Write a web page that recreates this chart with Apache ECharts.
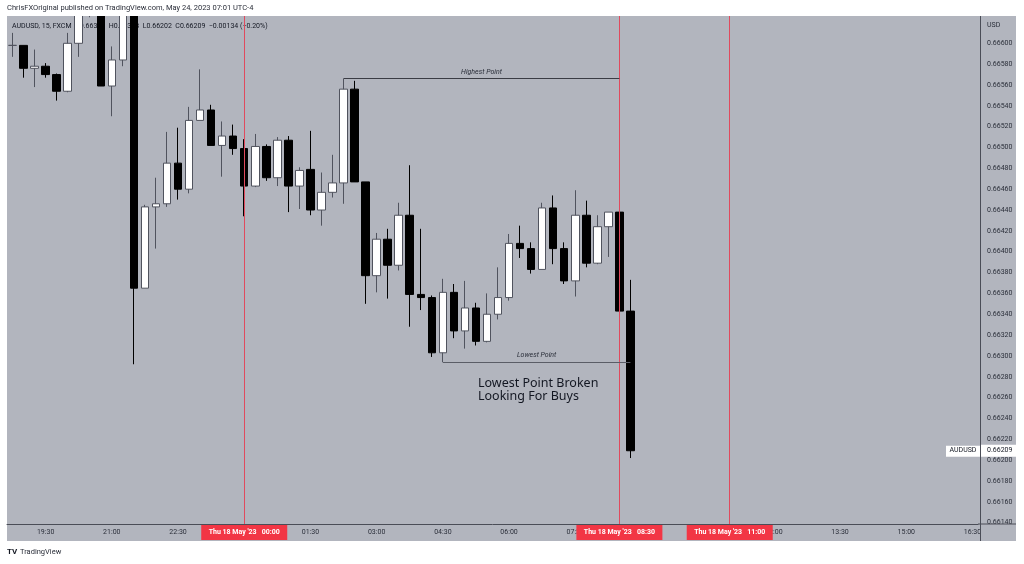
<!DOCTYPE html>
<html><head><meta charset="utf-8">
<script src="https://cdn.jsdelivr.net/npm/echarts@6/dist/echarts.min.js"></script>
<style>html,body{margin:0;padding:0;background:#fff}#c{width:1024px;height:564px}</style>
</head><body><div id="c"></div>
<script>
// 15-minute categories (18:45 on 17 May to 16:30 on 18 May)
const times = ['18:45','19:00','19:15','19:30','19:45','20:00','20:15','20:30','20:45','21:00','21:15','21:30','21:45','22:00','22:15','22:30','22:45','23:00','23:15','23:30','23:45',
'00:00','00:15','00:30','00:45','01:00','01:15','01:30','01:45','02:00','02:15','02:30','02:45','03:00','03:15','03:30','03:45','04:00','04:15','04:30','04:45','05:00','05:15','05:30','05:45','06:00','06:15','06:30','06:45','07:00','07:15','07:30','07:45','08:00','08:15','08:30','08:45',
'09:00','09:15','09:30','09:45','10:00','10:15','10:30','10:45','11:00','11:15','11:30','11:45','12:00','12:15','12:30','12:45','13:00','13:15','13:30','13:45','14:00','14:15','14:30','14:45','15:00','15:15','15:30','15:45','16:00','16:15','16:30'];
const xLabelTimes = ['19:30','21:00','22:30','00:00','01:30','03:00','04:30','06:00','07:30','09:00','10:30','12:00','13:30','15:00','16:30'];

const opens  = [0.66598,0.66598,0.66576,0.66578,0.66570,0.66554,0.66600,0.66640,0.66650,0.66559,0.66584,0.66660,0.66365,0.66443,0.66446,0.66485,0.66460,0.66526,0.66536,0.66502,0.66511,0.66499,0.66463,0.66501,0.66471,0.66507,0.66463,0.66479,0.66440,0.66457,0.66466,0.66556,0.66467,0.66377,0.66412,0.66387,0.66435,0.66359,0.66356,0.66303,0.66361,0.66324,0.66346,0.66314,0.66340,0.66356,0.66408,0.66403,0.66383,0.66442,0.66403,0.66372,0.66435,0.66389,0.66424,0.66438,0.66343];
const closes = [0.66598,0.66576,0.66578,0.66570,0.66554,0.66600,0.66640,0.66660,0.66559,0.66584,0.66650,0.66365,0.66443,0.66446,0.66485,0.66460,0.66526,0.66536,0.66502,0.66511,0.66499,0.66463,0.66501,0.66471,0.66507,0.66463,0.66478,0.66440,0.66457,0.66466,0.66556,0.66467,0.66377,0.66412,0.66387,0.66435,0.66359,0.66356,0.66303,0.66361,0.66324,0.66346,0.66314,0.66340,0.66356,0.66408,0.66403,0.66383,0.66442,0.66403,0.66372,0.66435,0.66389,0.66424,0.66438,0.66343,0.66209];
const lows   = [0.66587,0.66567,0.66558,0.66567,0.66545,0.66553,0.66587,0.66625,0.66559,0.66530,0.66578,0.66292,0.66365,0.66403,0.66443,0.66450,0.66456,0.66526,0.66502,0.66472,0.66493,0.66434,0.66462,0.66468,0.66463,0.66438,0.66441,0.66435,0.66425,0.66452,0.66446,0.66467,0.66350,0.66361,0.66355,0.66382,0.66328,0.66344,0.66299,0.66294,0.66317,0.66307,0.66310,0.66313,0.66335,0.66353,0.66394,0.66379,0.66383,0.66388,0.66369,0.66357,0.66385,0.66388,0.66395,0.66294,0.66202];
const highs  = [0.66610,0.66598,0.66594,0.66581,0.66571,0.66610,0.66650,0.66670,0.66665,0.66597,0.66670,0.66675,0.66445,0.66471,0.66515,0.66519,0.66539,0.66575,0.66541,0.66525,0.66522,0.66508,0.66513,0.66503,0.66510,0.66511,0.66481,0.66516,0.66476,0.66493,0.66566,0.66564,0.66467,0.66418,0.66422,0.66447,0.66483,0.66422,0.66358,0.66374,0.66369,0.66372,0.66351,0.66360,0.66385,0.66417,0.66425,0.66409,0.66447,0.66454,0.66409,0.66459,0.66449,0.66435,0.66438,0.66443,0.66373];

const yTicks = [0.6614,0.6616,0.6618,0.6620,0.6622,0.6624,0.6626,0.6628,0.6630,0.6632,0.6634,0.6636,0.6638,0.6640,0.6642,0.6644,0.6646,0.6648,0.6650,0.6652,0.6654,0.6656,0.6658,0.6660];
const markerTimes = ['00:00','08:30','11:00'];
const markerDate = "Thu 18 May '23";
const lastPrice = 0.66209;
const highIdx = 30, highEnd = 55, lowIdx = 39, lowEnd = 56;

const FONT = 'Roboto, "Liberation Sans", sans-serif';
const chart = echarts.init(document.getElementById('c'), null, {renderer:'canvas'});

const candleData = opens.map((o,i)=>[o, closes[i], lows[i], highs[i]]);

chart.setOption({
  animation:false,
  backgroundColor:'#ffffff',
  grid:{left:7, right:46, top:16, bottom:40},
  xAxis:{type:'category', data:times, boundaryGap:true,
    axisLine:{show:true, lineStyle:{color:'#4a4d57', width:1}},
    axisTick:{show:false}, splitLine:{show:false},
    axisLabel:{interval:(i,v)=>xLabelTimes.includes(v), fontSize:7, color:'#2a2e39', margin:5, fontFamily:FONT}},
  yAxis:{type:'value', position:'right', offset:2, min:0.661387, max:0.666262, scale:true,
    axisLine:{show:true, lineStyle:{color:'#4a4d57', width:1}},
    axisTick:{show:false}, splitLine:{show:false},
    axisLabel:{customValues:yTicks, formatter:v=>v.toFixed(5), fontSize:7, color:'#2a2e39', margin:7, fontFamily:FONT}},
  series:[
    {type:'line', data:[], z:1, silent:true,
     markLine:{symbol:['none','none'], silent:true, animation:false, label:{show:false},
       data:[
         ...markerTimes.map(t=>({xAxis:t, lineStyle:{color:'#e04a5e', width:1, type:'solid'}})),
         {yAxis:lastPrice, lineStyle:{color:'#e3e5ea', width:1, type:[1,2]}}
       ]}},
    {type:'candlestick', z:2, clip:true, data:candleData, barWidth:8,
     itemStyle:{color:'#ffffff', color0:'#000000', borderColor:'#50535e', borderColor0:'#000000', borderWidth:1},
     markLine:{symbol:['none','none'], silent:true, animation:false,
       data:[
         [{name:'Highest Point', coord:[times[highIdx], highs[highIdx]], lineStyle:{color:'#3a3c44', width:1, type:'solid'},
           label:{show:true, position:'insideMiddleTop', formatter:'{b}', fontSize:7, fontStyle:'italic', color:'#2a2e39', fontFamily:FONT, distance:3}},
          {coord:[times[highEnd], highs[highIdx]]}],
         [{name:'Lowest Point', coord:[times[lowIdx], lows[lowIdx]], lineStyle:{color:'#5a5d66', width:1, type:'solid'},
           label:{show:true, position:'insideMiddleTop', formatter:'{b}', fontSize:7, fontStyle:'italic', color:'#2a2e39', fontFamily:FONT, distance:3}},
          {coord:[times[lowEnd], lows[lowIdx]]}]
       ]}}
  ]
});

// label boxes positioned through the chart's own scales
const priceY = chart.convertToPixel({gridIndex:0}, [0, lastPrice])[1];
const gfx = [
  {type:'rect', z:-10, shape:{x:7, y:16, width:1009, height:525}, style:{fill:'#b2b5be'}, silent:true},
  {type:'rect', z:20, shape:{x:0, y:0, width:1024, height:16}, style:{fill:'#ffffff'}, silent:true},
  {type:'line', z:10, shape:{x1:978, y1:524, x2:1016, y2:524}, style:{stroke:'#4a4d57', lineWidth:1}},
  {type:'line', z:10, shape:{x1:980.5, y1:524, x2:980.5, y2:541}, style:{stroke:'#4a4d57', lineWidth:1}},
  {type:'text', z:21, style:{text:'ChrisFXOriginal published on TradingView.com, May 24, 2023 07:01 UTC-4', x:7, y:8, verticalAlign:'middle', font:'7.5px '+FONT, fill:'#2a2e39'}},
  {type:'text', z:1, style:{text:'AUDUSD, 15, FXCM  O0.66343  H0.66373  L0.66202  C0.66209  \u22120.00134 (\u22120.20%)', x:12, y:26, verticalAlign:'middle', font:'7px '+FONT, fill:'#131722'}},
  {type:'text', z:10, style:{text:'USD', x:987, y:25, verticalAlign:'middle', font:'7px '+FONT, fill:'#2a2e39'}},
  {type:'text', z:10, style:{text:'Lowest Point Broken\nLooking For Buys', x:478, y:377, lineHeight:13, font:'12.5px "Noto Sans", sans-serif', fill:'#131722'}},
  {type:'text', z:10, style:{text:'TV', x:7, y:552, verticalAlign:'middle', font:'bold 8px '+FONT, fill:'#131722'}},
  {type:'text', z:10, style:{text:'TradingView', x:20, y:552, verticalAlign:'middle', font:'7.5px '+FONT, fill:'#2a2e39'}},
  {type:'rect', z:10, shape:{x:981, y:priceY-6, width:42, height:12}, style:{fill:'#ffffff'}},
  {type:'text', z:11, style:{text:lastPrice.toFixed(5), x:987, y:priceY, verticalAlign:'middle', font:'7px '+FONT, fill:'#131722'}},
  {type:'rect', z:10, shape:{x:946, y:priceY-5, width:34, height:11}, style:{fill:'#ffffff'}},
  {type:'text', z:11, style:{text:'AUDUSD', x:963, y:priceY, align:'center', verticalAlign:'middle', font:'7px '+FONT, fill:'#131722'}}
];
markerTimes.forEach(t=>{
  const px = chart.convertToPixel({gridIndex:0}, [t, lastPrice])[0];
  gfx.push({type:'rect', z:10, shape:{x:px-43, y:525, width:86, height:15}, style:{fill:'#f23645'}});
  gfx.push({type:'text', z:11, style:{text:markerDate+'   '+t, x:px, y:532.5, align:'center', verticalAlign:'middle', font:'bold 7px '+FONT, fill:'#ffffff'}});
});
chart.setOption({graphic:gfx});
</script></body></html>
